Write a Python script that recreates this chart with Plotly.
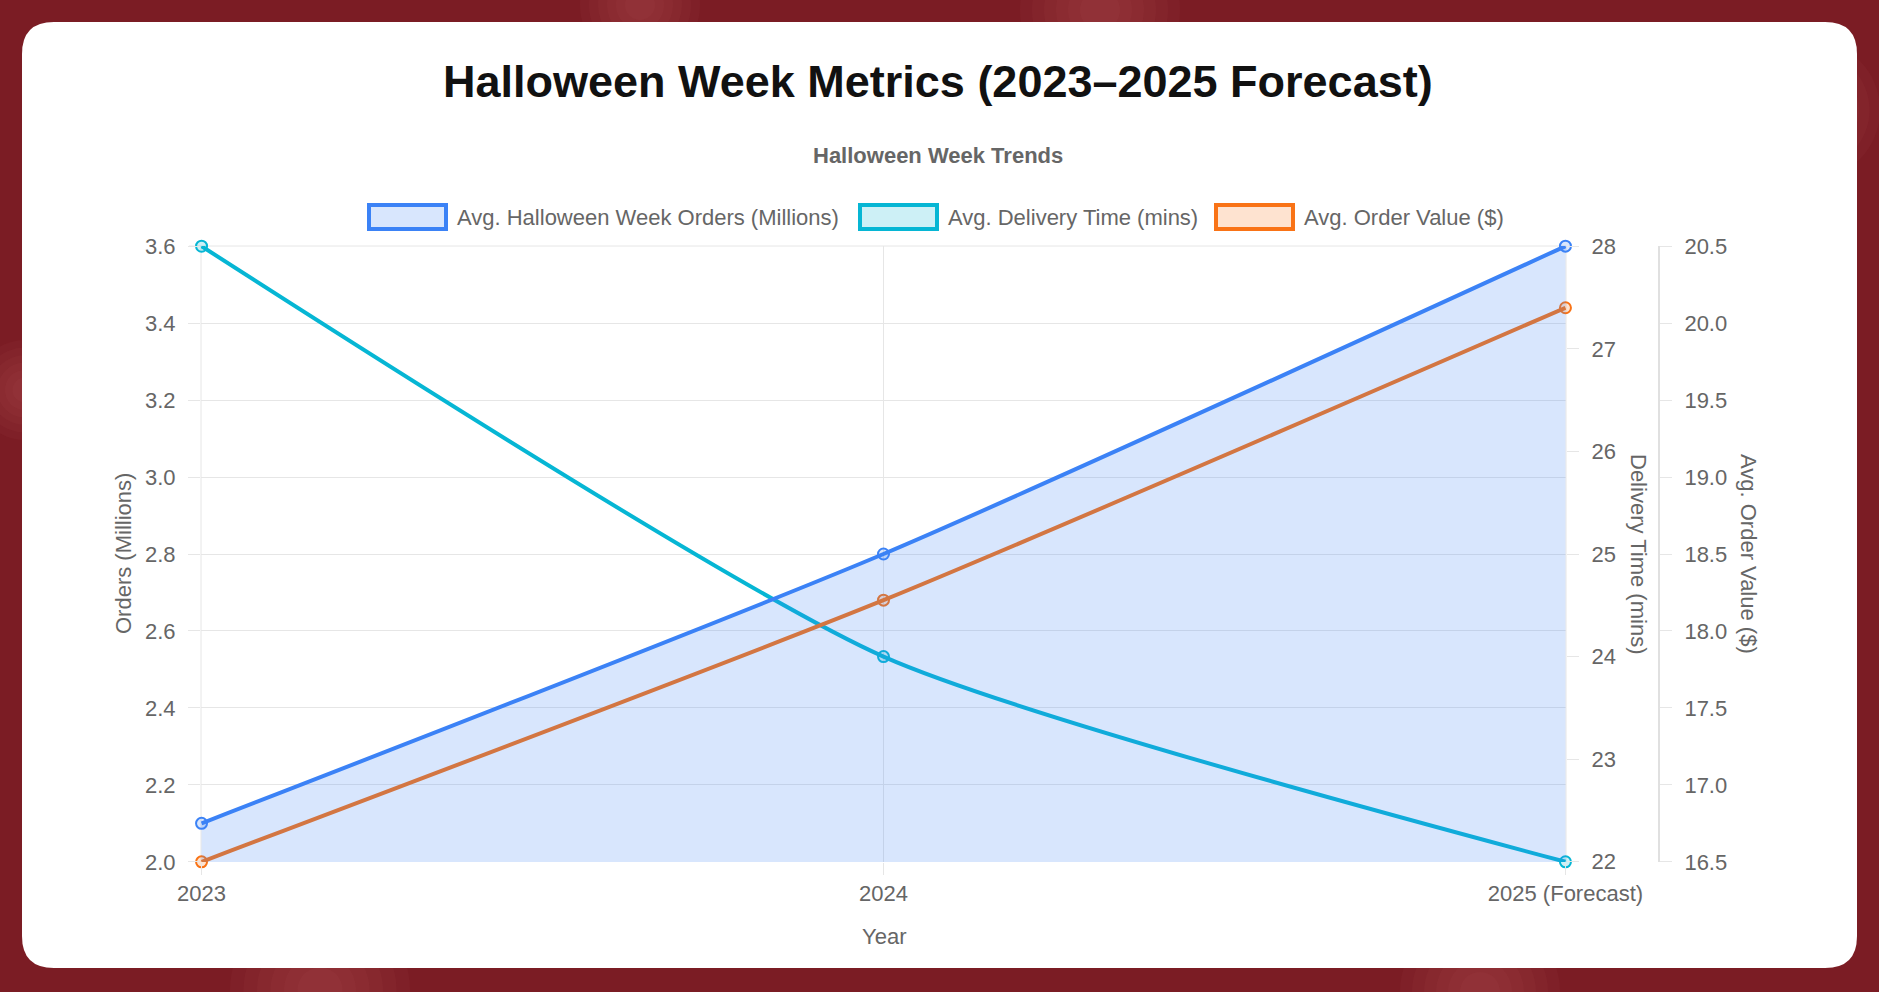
import plotly.graph_objects as go

# 画布 / 绘图区（像素）
W, H = 1879, 992
L, R, T, B = 201, 100, 246, 130
PW, PH = W - L - R, H - T - B

years = ["2023", "2024", "2025 (Forecast)"]
orders_m = [2.1, 2.8, 3.6]
delivery_mins = [28, 24, 22]
order_value = [16.5, 18.2, 20.1]

series_names = ["Avg. Halloween Week Orders (Millions)",
                "Avg. Delivery Time (mins)",
                "Avg. Order Value ($)"]
colors = ["#3b82f6", "#06b6d4", "#f97316"]
fills = ["rgba(59,130,246,0.2)", "rgba(6,182,212,0.2)", "rgba(249,115,22,0.2)"]

FONT = "Liberation Sans, Arial, Helvetica, sans-serif"
GRID = "#e6e6e6"
TXT = "#666666"
X_END = 1566  # 绘图区右边（像素）


def px(x):
    return (x - L) / PW


def py(y):
    return (H - B - y) / PH


def card_path(x0, y0, x1, y1, r):
    """白色圆角卡片（paper 坐标）。"""
    p = lambda x, y: f"{px(x):.5f},{py(y):.5f}"
    return (f"M {p(x0 + r, y0)} L {p(x1 - r, y0)} Q {p(x1, y0)} {p(x1, y0 + r)} "
            f"L {p(x1, y1 - r)} Q {p(x1, y1)} {p(x1 - r, y1)} "
            f"L {p(x0 + r, y1)} Q {p(x0, y1)} {p(x0, y1 - r)} "
            f"L {p(x0, y0 + r)} Q {p(x0, y0)} {p(x0 + r, y0)} Z")


def line(y, i, axis, fill=None):
    return go.Scatter(
        x=years, y=y, name=series_names[i], yaxis=axis, mode="lines+markers",
        line=dict(color=colors[i], width=4, shape="spline", smoothing=0.6),
        marker=dict(size=11, color=fills[i], line=dict(color=colors[i], width=2)),
        fill=fill, fillcolor=fills[i] if fill else None,
        cliponaxis=False, showlegend=False,
    )


# Chart.js 反序绘制：订单（带填充）盖在最上层；左轴 y 上放一条透明占位线，保证左轴/网格出现
fig = go.Figure([
    go.Scatter(x=years, y=orders_m, yaxis="y", mode="lines", opacity=0,
               line=dict(width=0), hoverinfo="skip", showlegend=False),
    line(order_value, 2, "y3"),
    line(delivery_mins, 1, "y2"),
    line(orders_m, 0, "y4", fill="tozeroy"),
])

# 背景：暗红 + 几团柔光
shapes = []
for cx, cy, rr in [(1100, 10, 80), (25, 390, 50), (1810, 110, 70),
                   (320, 990, 90), (1480, 992, 80), (640, 5, 60)]:
    for k in range(6):
        r2 = rr * (1 - k * 0.15)
        shapes.append(dict(type="circle", xref="paper", yref="paper", layer="below",
                           x0=px(cx - r2), x1=px(cx + r2), y0=py(cy + r2), y1=py(cy - r2),
                           fillcolor="rgba(225,110,110,0.05)", line=dict(width=0)))
shapes.append(dict(type="path", xref="paper", yref="paper", layer="below",
                   path=card_path(22, 22, 1857, 968, 32),
                   fillcolor="white", line=dict(width=0)))

# plotly 会省掉贴边的网格线，这里补上（左、右、上）
edge = dict(type="line", xref="paper", yref="paper", layer="below",
            line=dict(color=GRID, width=1))
shapes += [
    dict(edge, x0=0, x1=0, y0=0, y1=1),
    dict(edge, x0=px(X_END), x1=px(X_END), y0=0, y1=1),
    dict(edge, x0=px(L - 12), x1=px(X_END), y0=1, y1=1),
]

annotations = [
    dict(text="<b>Halloween Week Metrics (2023–2025 Forecast)</b>", x=px(938), y=py(81),
         font=dict(size=45, color="#111111")),
    dict(text="<b>Halloween Week Trends</b>", x=px(938), y=py(155),
         font=dict(size=22, color=TXT)),
    dict(text="Orders (Millions)", x=px(123), y=py(554), textangle=-90,
         font=dict(size=22, color=TXT)),
    dict(text="Delivery Time (mins)", x=px(1639), y=py(554), textangle=90,
         font=dict(size=22, color=TXT)),
    dict(text="Avg. Order Value ($)", x=px(1749), y=py(554), textangle=90,
         font=dict(size=22, color=TXT)),
    dict(text="Year", x=px(884), y=py(936), font=dict(size=22, color=TXT)),
]

# 自绘图例：描边方块 + 文字
for i, bx in enumerate([367, 858, 1214]):
    shapes.append(dict(type="rect", xref="paper", yref="paper",
                       x0=px(bx + 2), x1=px(bx + 79), y0=py(229), y1=py(205),
                       fillcolor=fills[i], line=dict(color=colors[i], width=4)))
    annotations.append(dict(text=series_names[i], x=px(bx + 88), y=py(217), xanchor="left",
                            font=dict(size=22, color=TXT)))

for a in annotations:
    a.update(xref="paper", yref="paper", showarrow=False)
    a.setdefault("xanchor", "center")
    a.setdefault("yanchor", "middle")

tick = dict(ticks="outside", ticklen=12, tickcolor=GRID, zeroline=False,
            tickfont=dict(size=22, color=TXT, family=FONT))

fig.update_layout(
    width=W, height=H, margin=dict(l=L, r=R, t=T, b=B),
    paper_bgcolor="#7b1c24", plot_bgcolor="rgba(0,0,0,0)",
    font=dict(family=FONT, color=TXT),
    shapes=shapes, annotations=annotations, showlegend=False,
    xaxis=dict(type="category", range=[-0.0008, 2.0008], domain=[0, px(X_END)], showgrid=True,
               gridcolor=GRID, showline=False, **tick),
    yaxis=dict(range=[1.9995, 3.6005], tick0=2.0, dtick=0.2, tickformat=".1f",
               showgrid=True, gridcolor=GRID, ticklabelstandoff=8, **tick),
    yaxis2=dict(overlaying="y", side="right", anchor="x", range=[21.998, 28.002], dtick=1,
                showgrid=False, ticklabelstandoff=8, **tick),
    yaxis3=dict(overlaying="y", side="right", anchor="free", position=px(1659),
                range=[16.4988, 20.5012], dtick=0.5, tickformat=".1f", showgrid=False,
                showline=True, linecolor="#e0e0e0", linewidth=2, ticklabelstandoff=8, **tick),
    yaxis4=dict(overlaying="y", range=[1.9995, 3.6005], visible=False),
)

fig.write_html("out.html", config={"displayModeBar": False},
               post_script="document.body.style.margin='0';document.body.style.overflow='hidden';")
